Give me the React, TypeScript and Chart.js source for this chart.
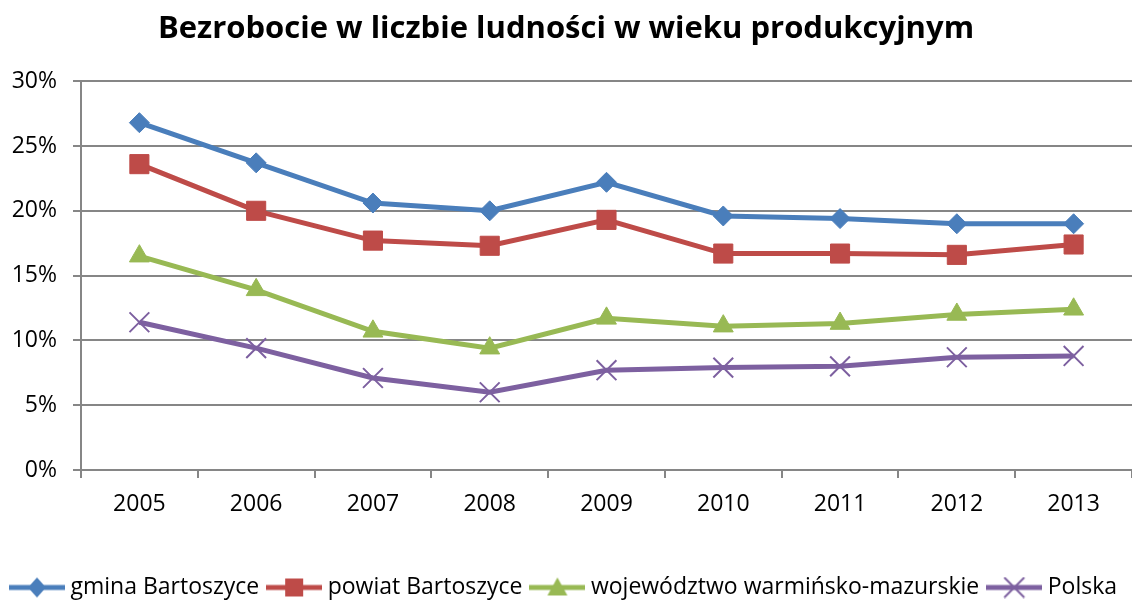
import React, { useEffect, useRef } from "react";
import { Chart, registerables } from "chart.js";

Chart.register(...registerables);

const years = ["2005", "2006", "2007", "2008", "2009", "2010", "2011", "2012", "2013"];
const gmina = [26.8, 23.7, 20.6, 20.0, 22.2, 19.6, 19.4, 19.0, 19.0];
const powiat = [23.6, 20.0, 17.7, 17.3, 19.3, 16.7, 16.7, 16.6, 17.4];
const wojewodztwo = [16.5, 13.9, 10.7, 9.4, 11.7, 11.1, 11.3, 12.0, 12.4];
const polska = [11.4, 9.4, 7.1, 6.0, 7.7, 7.9, 8.0, 8.7, 8.8];
const seriesNames = ["gmina Bartoszyce", "powiat Bartoszyce", "województwo warmińsko-mazurskie", "Polska"];
const titleText = "Bezrobocie w liczbie ludności w wieku produkcyjnym";

const FONT = "'Open Sans', sans-serif";

function legendIcon(color: string, style: string): HTMLCanvasElement {
  const c = document.createElement("canvas");
  c.width = 56;
  c.height = 22;
  const ctx = c.getContext("2d")!;
  ctx.strokeStyle = color;
  ctx.lineWidth = 5;
  ctx.beginPath();
  ctx.moveTo(0, 11);
  ctx.lineTo(56, 11);
  ctx.stroke();
  ctx.fillStyle = color;
  const x = 28, y = 11;
  ctx.beginPath();
  if (style === "diamond") {
    ctx.moveTo(x, y - 10); ctx.lineTo(x + 9, y); ctx.lineTo(x, y + 10); ctx.lineTo(x - 9, y); ctx.closePath(); ctx.fill();
  } else if (style === "square") {
    ctx.rect(x - 9, y - 9, 18, 18); ctx.fill();
  } else if (style === "triangle") {
    ctx.moveTo(x, y - 10); ctx.lineTo(x + 10, y + 8); ctx.lineTo(x - 10, y + 8); ctx.closePath(); ctx.fill();
  } else {
    ctx.lineWidth = 2;
    ctx.moveTo(x - 10, y - 10); ctx.lineTo(x + 10, y + 10);
    ctx.moveTo(x + 10, y - 10); ctx.lineTo(x - 10, y + 10);
    ctx.stroke();
  }
  return c;
}

export default function App() {
  const ref = useRef<HTMLCanvasElement | null>(null);

  useEffect(() => {
    document.body.style.margin = "0";
    const colors = ["#4A7EBB", "#BE4B48", "#98B954", "#7D60A0"];
    const styles = ["diamond", "square", "triangle", "cross"];
    const icons = colors.map((c, i) => legendIcon(c, styles[i]));
    const chart = new Chart(ref.current!, {
      type: "line",
      data: {
        labels: years,
        datasets: [
          {
            label: seriesNames[0], data: gmina, borderColor: colors[0], backgroundColor: colors[0],
            borderWidth: 5, pointStyle: "rectRot", pointRadius: 10, pointBorderWidth: 1,
          },
          {
            label: seriesNames[1], data: powiat, borderColor: colors[1], backgroundColor: colors[1],
            borderWidth: 5, pointStyle: "rect", pointRadius: 13.5, pointBorderWidth: 1,
          },
          {
            label: seriesNames[2], data: wojewodztwo, borderColor: colors[2], backgroundColor: colors[2],
            borderWidth: 5, pointStyle: "triangle", pointRadius: 11.5, pointBorderWidth: 1,
          },
          {
            label: seriesNames[3], data: polska, borderColor: colors[3], backgroundColor: colors[3],
            borderWidth: 5, pointStyle: "crossRot", pointRadius: 14, pointBorderWidth: 2,
          },
        ],
      },
      options: {
        animation: false,
        responsive: false,
        layout: { autoPadding: false, padding: { left: 0, right: 0, top: 0, bottom: -8 } },
        plugins: {
          title: {
            display: true,
            text: titleText,
            color: "#000",
            font: { family: FONT, size: 31, weight: "bold", lineHeight: 1.2 },
            padding: { top: 11, bottom: 33 },
          },
          legend: {
            position: "bottom",
            labels: {
              usePointStyle: true,
              pointStyleWidth: 44,
              color: "#000",
              font: { family: FONT, size: 23 },
              padding: 13,
              generateLabels: (ch: any) =>
                ch.data.datasets.map((ds: any, i: number) => ({
                  text: ds.label,
                  pointStyle: icons[i],
                  fillStyle: colors[i],
                  strokeStyle: colors[i],
                  lineWidth: 0,
                  hidden: false,
                  datasetIndex: i,
                  fontColor: "#000",
                })),
            },
          },
          tooltip: { enabled: false },
        },
        scales: {
          x: {
            offset: true,
            grid: { display: true, drawOnChartArea: false, drawTicks: true, tickLength: 8, color: "#868686", lineWidth: 2, offset: true },
            border: { display: true, color: "#868686", width: 2 },
            ticks: { color: "#000", font: { family: FONT, size: 23 }, padding: 13 },
            afterFit: (s: any) => { s.paddingRight = 0; s.paddingLeft = 0; s.height = 93; },
          },
          y: {
            min: 0,
            max: 30,
            grid: { color: "#868686", lineWidth: 2, tickLength: 8 },
            border: { display: true, color: "#868686", width: 2 },
            ticks: {
              stepSize: 5,
              color: "#000",
              font: { family: FONT, size: 23 },
              padding: 16,
              callback: (v: any) => v + "%",
            },
            afterFit: (s: any) => { s.width = 81; },
          },
        },
      },
    });
    return () => chart.destroy();
  }, []);

  return (
    <div style={{ width: 1132, height: 601 }}>
      <canvas ref={ref} width={1132} height={601} style={{ display: "block" }} />
    </div>
  );
}
